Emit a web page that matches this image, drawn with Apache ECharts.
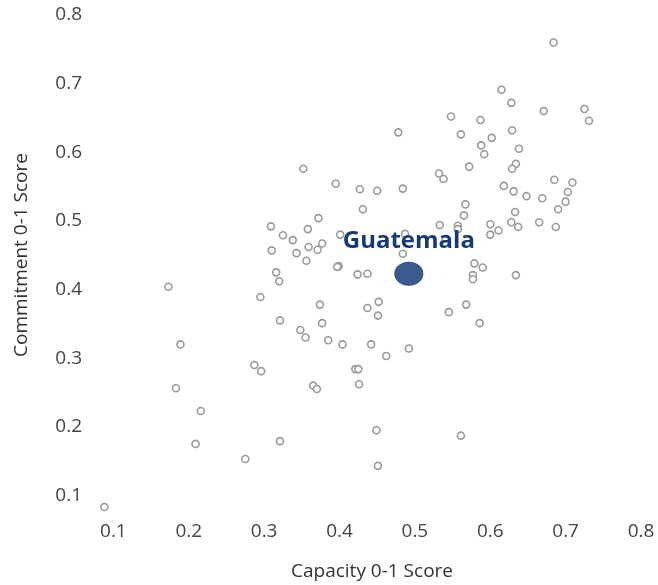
<!DOCTYPE html>
<html>
<head>
<meta charset="utf-8">
<script src="https://cdn.jsdelivr.net/npm/echarts@6/dist/echarts.min.js"></script>
<style>html,body{margin:0;padding:0;background:#fff}#c{width:658px;height:585px}</style>
</head>
<body>
<div id="c"></div>
<script>
const xTicks = [0.1, 0.2, 0.3, 0.4, 0.5, 0.6, 0.7, 0.8];
const yTicks = [0.1, 0.2, 0.3, 0.4, 0.5, 0.6, 0.7, 0.8];
const capacity = [0.684,0.615,0.628,0.671,0.725,0.731,0.587,0.629,0.602,0.588,0.592,0.638,0.634,0.629,0.685,0.709,0.618,0.631,0.703,0.648,0.669,0.700,0.690,0.633,0.628,0.637,0.665,0.687,0.600,0.611,0.600,0.478,0.561,0.548,0.352,0.572,0.532,0.538,0.395,0.427,0.450,0.484,0.567,0.431,0.565,0.372,0.358,0.533,0.557,0.557,0.325,0.338,0.401,0.487,0.359,0.377,0.371,0.343,0.356,0.484,0.541,0.579,0.590,0.577,0.577,0.399,0.397,0.424,0.437,0.309,0.310,0.316,0.320,0.173,0.295,0.374,0.452,0.437,0.451,0.568,0.545,0.377,0.586,0.321,0.348,0.355,0.385,0.404,0.442,0.462,0.492,0.189,0.287,0.296,0.421,0.425,0.183,0.365,0.370,0.426,0.216,0.449,0.561,0.209,0.321,0.275,0.451,0.088,0.634];
const commitment = [0.760,0.691,0.672,0.660,0.663,0.646,0.647,0.632,0.621,0.610,0.597,0.605,0.583,0.576,0.560,0.556,0.551,0.543,0.542,0.536,0.533,0.528,0.517,0.513,0.498,0.491,0.498,0.491,0.495,0.486,0.480,0.629,0.626,0.652,0.576,0.579,0.569,0.561,0.554,0.546,0.544,0.547,0.524,0.517,0.508,0.504,0.488,0.494,0.493,0.488,0.479,0.472,0.480,0.481,0.462,0.467,0.458,0.453,0.442,0.452,0.474,0.438,0.432,0.421,0.415,0.434,0.433,0.422,0.423,0.492,0.457,0.425,0.412,0.404,0.389,0.378,0.382,0.373,0.362,0.378,0.367,0.351,0.351,0.355,0.341,0.330,0.326,0.320,0.320,0.303,0.314,0.320,0.290,0.281,0.284,0.284,0.256,0.260,0.255,0.262,0.223,0.195,0.187,0.175,0.179,0.153,0.143,0.083,0.421];
const highlightName = ['Guatemala'];
const highlightCapacity = [0.492];
const highlightCommitment = [0.423];
const xTitle = 'Capacity 0-1 Score';
const yTitle = 'Commitment 0-1 Score';

const pts = capacity.map((c, i) => [c, commitment[i]]);
const hl = highlightCapacity.map((c, i) => ({value: [c, highlightCommitment[i]], name: highlightName[i]}));
const FONT = '"Open Sans", sans-serif';
const tickFmt = ticks => v => { const t = ticks.find(k => Math.abs(k - v) < 1e-6); return t === undefined ? '' : t.toFixed(1); };
const chart = echarts.init(document.getElementById('c'), null, {renderer: 'canvas'});
chart.setOption({
  animation: false,
  backgroundColor: '#fff',
  grid: {left: 38, right: 17, top: 15, bottom: 21, containLabel: false},
  xAxis: {
    type: 'value', min: 0, max: 0.8, interval: 0.1, offset: -50,
    axisLine: {show: false}, axisTick: {show: false}, splitLine: {show: false},
    axisLabel: {color: '#444', fontSize: 19, fontFamily: FONT, margin: 8, showMaxLabel: true, formatter: tickFmt(xTicks)}
  },
  yAxis: {
    type: 'value', min: 0, max: 0.8, interval: 0.1, offset: -52,
    axisLine: {show: false}, axisTick: {show: false}, splitLine: {show: false},
    axisLabel: {color: '#444', fontSize: 19, fontFamily: FONT, margin: 8, formatter: tickFmt(yTicks)}
  },
  graphic: [
    {type: 'text', x: 372, y: 572, style: {text: xTitle, align: 'center', verticalAlign: 'middle', fill: '#333', font: '19px ' + FONT}},
    {type: 'text', rotation: Math.PI / 2, x: 22, y: 255, style: {text: yTitle, align: 'center', verticalAlign: 'middle', fill: '#333', font: '19px ' + FONT}}
  ],
  series: [
    {
      type: 'scatter', data: pts, symbol: 'circle', symbolSize: 7, clip: false,
      itemStyle: {color: '#ffffff', borderColor: '#9a9a9a', borderWidth: 1.6, opacity: 1},
      z: 2
    },
    {
      type: 'scatter', data: hl, symbol: 'circle', symbolSize: [28, 23], clip: false,
      itemStyle: {color: '#3b5a8e', borderColor: '#34517f', borderWidth: 1, opacity: 1},
      label: {show: true, position: 'top', distance: 9, formatter: p => p.name, color: '#163a78', opacity: 1, fontWeight: 'bold', fontSize: 24, fontFamily: FONT},
      z: 3
    }
  ]
});
</script>
</body>
</html>
